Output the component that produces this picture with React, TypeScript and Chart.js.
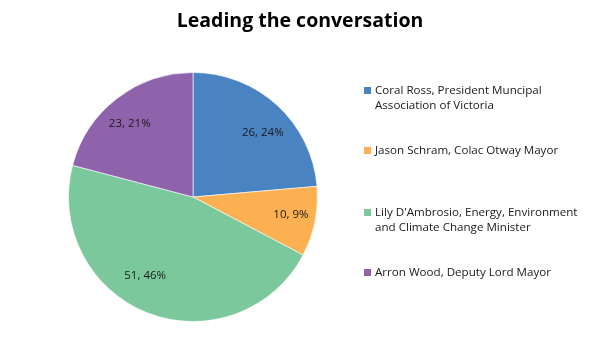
import React, { useEffect, useRef } from "react";
import { Chart, registerables } from "chart.js";

Chart.register(...registerables);

const titleText = "Leading the conversation";
const categories: string[][] = [
  ["Coral Ross, President Muncipal", "Association of Victoria"],
  ["Jason Schram, Colac Otway Mayor"],
  ["Lily D'Ambrosio, Energy, Environment", "and Climate Change Minister"],
  ["Arron Wood, Deputy Lord Mayor"],
];
const values = [26, 10, 51, 23];
const percents = ["24%", "9%", "46%", "21%"];
const colors = ["#4A83C2", "#FDB052", "#7BC89C", "#8F62AC"];

// label placement tweaks (angle offset in degrees, radius fraction)
const labelAngleOffset = [5, -1, 10, -3];
const labelRadius = [0.76, 0.8, 0.74, 0.78];

const FONT = "'Open Sans', 'Noto Sans', sans-serif";

const overlayPlugin = {
  id: "overlay",
  afterDraw(chart: any) {
    const ctx = chart.ctx as CanvasRenderingContext2D;
    ctx.save();
    // Title
    ctx.fillStyle = "#000000";
    ctx.font = `bold 19.5px ${FONT}`;
    ctx.textAlign = "center";
    ctx.textBaseline = "middle";
    ctx.fillText(titleText, 300, 21);

    // Data labels
    const meta = chart.getDatasetMeta(0);
    ctx.font = `11.5px ${FONT}`;
    ctx.fillStyle = "#1a1a1a";
    meta.data.forEach((arc: any, i: number) => {
      const p = arc.getProps(["x", "y", "startAngle", "endAngle", "outerRadius"], true);
      const mid = (p.startAngle + p.endAngle) / 2 + (labelAngleOffset[i] * Math.PI) / 180;
      const r = p.outerRadius * labelRadius[i];
      const x = p.x + Math.cos(mid) * r;
      const y = p.y + Math.sin(mid) * r;
      ctx.fillText(`${values[i]}, ${percents[i]}`, x, y);
    });

    // Legend
    const ys = [91, 151, 213, 273];
    ctx.textAlign = "left";
    ctx.font = `11.6px ${FONT}`;
    categories.forEach((lines, i) => {
      ctx.fillStyle = colors[i];
      ctx.fillRect(364, ys[i] - 4, 7, 7);
      ctx.fillStyle = "#1a1a1a";
      lines.forEach((t, j) => {
        ctx.fillText(t, 375, ys[i] + j * 15);
      });
    });
    ctx.restore();
  },
};

export default function App() {
  const ref = useRef<HTMLCanvasElement>(null);
  useEffect(() => {
    document.body.style.margin = "0";
    const chart = new Chart(ref.current as HTMLCanvasElement, {
      type: "pie",
      data: {
        labels: categories.map((l) => l.join(" ")),
        datasets: [
          {
            data: values,
            backgroundColor: colors,
            borderColor: "rgba(255,255,255,0.6)",
            borderWidth: 1,
          },
        ],
      },
      options: {
        responsive: false,
        animation: false,
        layout: { padding: { left: 68, top: 72, right: 284, bottom: 31 } },
        plugins: {
          legend: { display: false },
          title: { display: false },
          tooltip: { enabled: false },
        },
      },
      plugins: [overlayPlugin],
    });
    return () => chart.destroy();
  }, []);
  return (
    <div style={{ width: 602, height: 353, background: "#fff" }}>
      <canvas ref={ref} width={602} height={353} />
    </div>
  );
}
